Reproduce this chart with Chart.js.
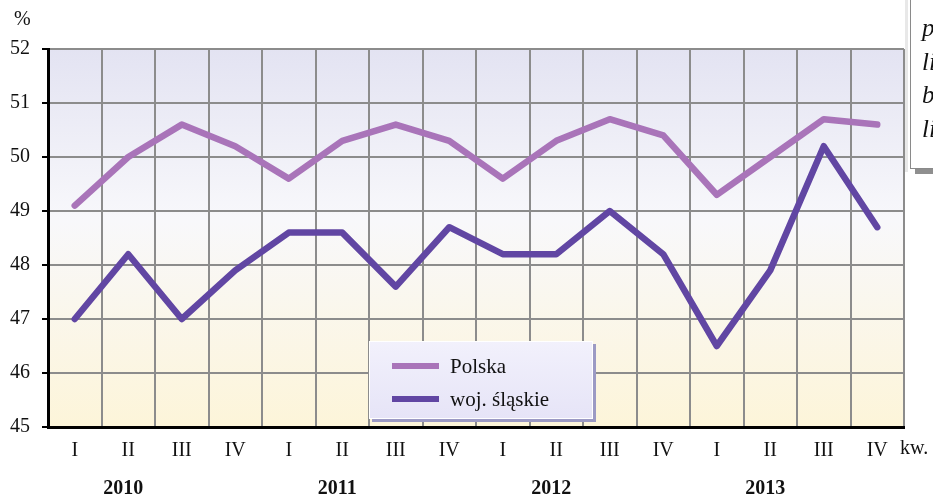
<!DOCTYPE html>
<html>
<head>
<meta charset="utf-8">
<script src="https://cdn.jsdelivr.net/npm/chart.js@4/dist/chart.umd.min.js"></script>
<style>
  html, body { margin: 0; padding: 0; background: #fff; }
  #wrap { position: relative; width: 933px; height: 499px; overflow: hidden; }
  canvas { position: absolute; left: 0; top: 0; }
  #note {
    position: absolute; left: 910px; top: -6px; width: 60px; height: 175px;
    background: #fff; border: 1px solid #8a8a8a;
    box-shadow: 5px 5px 0 #8f8f8f;
    font-family: "Liberation Serif", serif; font-style: italic; font-size: 25px;
    line-height: 33.5px; padding: 16px 0 0 11px; box-sizing: border-box; color: #111;
  }
  #noteEdge { position:absolute; left: 905px; top:0; width:3px; height:172px; background:#e8e8e8; }
</style>
</head>
<body>
<div id="wrap">
  <canvas id="c" width="933" height="499"></canvas>
  <div id="noteEdge"></div>
  <div id="note">p<br>li<br>b<br>li</div>
</div>
<script>
const quarters = ['I','II','III','IV','I','II','III','IV','I','II','III','IV','I','II','III','IV'];
const years = ['2010','2011','2012','2013'];
const polska = [49.1, 50.0, 50.6, 50.2, 49.6, 50.3, 50.6, 50.3, 49.6, 50.3, 50.7, 50.4, 49.3, 50.0, 50.7, 50.6];
const slaskie = [47.0, 48.2, 47.0, 47.9, 48.6, 48.6, 47.6, 48.7, 48.2, 48.2, 49.0, 48.2, 46.5, 47.9, 50.2, 48.7];
const seriesNames = ['Polska', 'woj. śląskie'];
const yTicks = [45, 46, 47, 48, 49, 50, 51, 52];

const FONT = '"Liberation Serif", "Times New Roman", serif';
const colPolska = '#a974b9';
const colSlaskie = '#6146a3';

const bgPlugin = {
  id: 'bg',
  beforeDraw(chart) {
    const {ctx, chartArea: a} = chart;
    const g = ctx.createLinearGradient(0, a.top, 0, a.bottom);
    g.addColorStop(0, '#e3e3f2');
    g.addColorStop(0.45, '#f8f8fb');
    g.addColorStop(1, '#fdf5d9');
    ctx.save();
    ctx.fillStyle = g;
    ctx.fillRect(a.left, a.top, a.right - a.left, a.bottom - a.top);
    ctx.restore();
  }
};

const extrasPlugin = {
  id: 'extras',
  afterDraw(chart) {
    const {ctx, chartArea: a, scales} = chart;
    const x = scales.x;
    ctx.save();
    ctx.fillStyle = '#111';
    ctx.textBaseline = 'middle';
    ctx.font = 'bold 20px ' + FONT;
    ctx.textAlign = 'center';
    years.forEach((y, i) => {
      const px = x.getPixelForValue(i * 4 + 1) - 5;
      ctx.fillText(y, px, 489);
    });
    ctx.font = '20px ' + FONT;
    ctx.textAlign = 'left';
    ctx.fillText('kw.', 900, 449);
    ctx.fillText('%', 14, 20);

    // legend
    const lx = 369, ly = 341, lw = 224, lh = 78;
    ctx.fillStyle = '#9c9ac4';
    ctx.fillRect(lx + 3, ly + 3, lw, lh);
    const lg = ctx.createLinearGradient(0, ly, 0, ly + lh);
    lg.addColorStop(0, '#f2f1fc');
    lg.addColorStop(1, '#e6e4f7');
    ctx.fillStyle = lg;
    ctx.fillRect(lx, ly, lw, lh);
    ctx.strokeStyle = '#ffffff';
    ctx.lineWidth = 1;
    ctx.strokeRect(lx + 0.5, ly + 0.5, lw - 1, lh - 1);
    const ds = chart.data.datasets;
    const rows = [366, 399];
    ds.forEach((d, i) => {
      ctx.strokeStyle = d.borderColor;
      ctx.lineWidth = 6;
      ctx.lineCap = 'butt';
      ctx.beginPath();
      ctx.moveTo(392, rows[i]);
      ctx.lineTo(439, rows[i]);
      ctx.stroke();
      ctx.fillStyle = '#111';
      ctx.font = '21px ' + FONT;
      ctx.textAlign = 'left';
      ctx.textBaseline = 'middle';
      ctx.fillText(d.label, 450, rows[i] + 1);
    });
    ctx.restore();
  }
};

new Chart(document.getElementById('c'), {
  type: 'line',
  data: {
    labels: quarters,
    datasets: [
      { label: seriesNames[0], data: polska, borderColor: colPolska, borderWidth: 6.5, pointRadius: 0, tension: 0, borderCapStyle: 'round', borderJoinStyle: 'round', fill: false },
      { label: seriesNames[1], data: slaskie, borderColor: colSlaskie, borderWidth: 6.5, pointRadius: 0, tension: 0, borderCapStyle: 'round', borderJoinStyle: 'round', fill: false }
    ]
  },
  options: {
    responsive: false,
    animation: false,
    layout: { padding: { top: 49, right: 29, left: 0, bottom: 0 } },
    plugins: { legend: { display: false }, tooltip: { enabled: false } },
    scales: {
      x: {
        offset: true,
        grid: { offset: true, color: '#8c8c8c', lineWidth: 2, drawTicks: false },
        border: { color: '#000', width: 3 },
        ticks: { color: '#111', font: { family: FONT, size: 20 }, padding: 12, maxRotation: 0, autoSkip: false },
        afterFit(s) { s.height = 72; }
      },
      y: {
        min: 45, max: 52,
        afterBuildTicks(s) { s.ticks = yTicks.map(v => ({ value: v })); },
        grid: { color: '#8c8c8c', lineWidth: 2, tickLength: 6, tickColor: '#000', tickWidth: 2 },
        border: { color: '#000', width: 3 },
        ticks: { color: '#111', font: { family: FONT, size: 20 }, padding: 12 },
        afterFit(s) { s.width = 48; }
      }
    }
  },
  plugins: [bgPlugin, extrasPlugin]
});
</script>
</body>
</html>
